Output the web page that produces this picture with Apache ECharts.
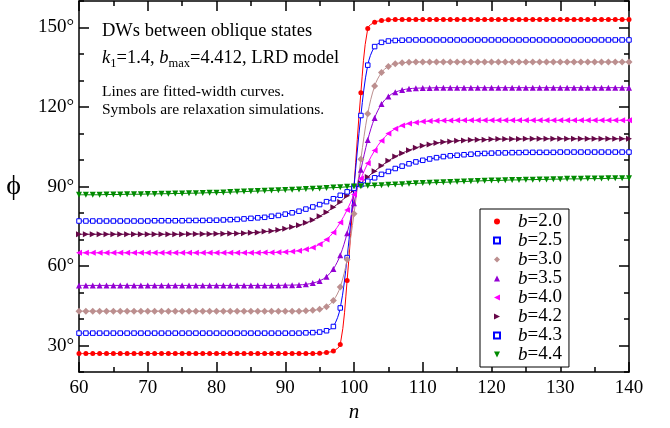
<!DOCTYPE html>
<html><head><meta charset="utf-8">
<script src="https://cdn.jsdelivr.net/npm/echarts@6/dist/echarts.min.js"></script>
<style>html,body{margin:0;padding:0;background:#fff}#c{width:670px;height:428px}</style>
</head><body><div id="c"></div>
<script>
// ---------- data ----------
const nValues = [60,61,62,63,64,65,66,67,68,69,70,71,72,73,74,75,76,77,78,79,80,81,82,83,84,85,86,87,88,89,90,91,92,93,94,95,96,97,98,99,100,101,102,103,104,105,106,107,108,109,110,111,112,113,114,115,116,117,118,119,120,121,122,123,124,125,126,127,128,129,130,131,132,133,134,135,136,137,138,139,140];

const yMajorTicks = [30, 60, 90, 120, 150];
const legendNames = ['2.0','2.5','3.0','3.5','4.0','4.2','4.3','4.4'];

const phi_b20 = [27.0,27.0,27.0,27.0,27.0,27.0,27.0,27.0,27.0,27.0,27.0,27.0,27.0,27.0,27.0,27.0,27.0,27.0,27.0,27.0,27.0,27.0,27.0,27.0,27.0,27.0,27.0,27.0,27.0,27.0,27.0,27.0,27.0,27.0,27.0,
 27.1,27.4,28.0,30.4,54.6,90.0,125.4,149.6,152.0,152.6,152.9,
 153.0,153.0,153.0,153.0,153.0,153.0,153.0,153.0,153.0,153.0,153.0,153.0,153.0,153.0,153.0,153.0,153.0,153.0,153.0,153.0,153.0,153.0,153.0,153.0,153.0,153.0,153.0,153.0,153.0,153.0,153.0,153.0,153.0,153.0,153.0];

const phi_b25 = [34.7,34.7,34.7,34.7,34.7,34.7,34.7,34.7,34.7,34.7,34.7,34.7,34.7,34.7,34.7,34.7,34.7,34.7,34.7,34.7,34.7,34.7,34.7,34.7,34.7,34.7,34.7,34.7,34.7,34.7,34.7,34.7,34.7,
 34.8,34.9,35.1,35.6,37.2,44.2,63.2,90.0,116.8,135.8,142.8,144.4,144.9,145.1,145.2,
 145.3,145.3,145.3,145.3,145.3,145.3,145.3,145.3,145.3,145.3,145.3,145.3,145.3,145.3,145.3,145.3,145.3,145.3,145.3,145.3,145.3,145.3,145.3,145.3,145.3,145.3,145.3,145.3,145.3,145.3,145.3,145.3,145.3];

const phi_b30 = [43.0,43.0,43.0,43.0,43.0,43.0,43.0,43.0,43.0,43.0,43.0,43.0,43.0,43.0,43.0,43.0,43.0,43.0,43.0,43.0,43.0,43.0,43.0,43.0,43.0,43.0,43.0,43.0,43.0,43.0,43.0,43.0,43.0,
 43.1,43.3,43.7,44.7,47.0,52.1,62.5,79.7,100.3,117.5,127.9,133.0,135.3,136.3,136.7,136.9,
 137.0,137.0,137.0,137.0,137.0,137.0,137.0,137.0,137.0,137.0,137.0,137.0,137.0,137.0,137.0,137.0,137.0,137.0,137.0,137.0,137.0,137.0,137.0,137.0,137.0,137.0,137.0,137.0,137.0,137.0,137.0,137.0];

const phi_b35 = [52.7,52.7,52.7,52.7,52.7,52.7,52.7,52.7,52.7,52.7,52.7,52.7,52.7,52.7,52.7,52.7,52.7,52.7,52.7,52.7,52.7,52.7,52.7,52.7,52.7,52.7,52.7,52.7,52.7,52.7,
 52.8,52.8,52.9,53.1,53.6,54.4,56.0,58.9,64.1,72.4,83.7,96.3,107.6,115.9,121.1,124.0,125.6,126.4,126.9,127.1,127.2,127.2,
 127.3,127.3,127.3,127.3,127.3,127.3,127.3,127.3,127.3,127.3,127.3,127.3,127.3,127.3,127.3,127.3,127.3,127.3,127.3,127.3,127.3,127.3,127.3,127.3,127.3,127.3,127.3,127.3,127.3];

const phi_b40 = [65.0,65.0,65.0,65.0,65.0,65.0,65.0,65.0,65.0,65.0,65.0,65.0,65.0,65.0,65.0,65.0,65.0,65.0,65.0,65.0,65.0,65.0,65.0,65.0,65.0,65.0,65.0,
 65.1,65.1,65.2,65.3,65.5,65.8,66.3,67.0,68.2,70.0,72.7,76.4,81.2,87.0,93.0,98.8,103.6,107.3,110.0,111.8,113.0,113.8,114.2,114.5,114.7,114.8,114.9,114.9,
 115.0,115.0,115.0,115.0,115.0,115.0,115.0,115.0,115.0,115.0,115.0,115.0,115.0,115.0,115.0,115.0,115.0,115.0,115.0,115.0,115.0,115.0,115.0,115.0,115.0,115.0];

const phi_b42 = [72.0,72.0,72.0,72.0,72.0,72.0,72.0,72.0,72.0,72.0,72.0,72.0,72.0,72.0,72.0,72.0,
 72.1,72.1,72.1,72.1,72.2,72.2,72.3,72.3,72.4,72.6,72.7,73.0,73.2,73.6,74.1,74.7,75.4,76.3,77.4,78.8,80.3,82.2,84.2,86.5,88.8,
 91.2,93.6,95.8,97.8,99.7,101.3,102.6,103.7,104.6,105.4,105.9,106.4,106.8,107.0,107.3,107.4,107.6,107.7,107.7,107.8,107.9,107.9,107.9,107.9,
 108.0,108.0,108.0,108.0,108.0,108.0,108.0,108.0,108.0,108.0,108.0,108.0,108.0,108.0,108.0,108.0];

const phi_b43 = [77.0,77.0,77.0,77.0,77.0,77.0,77.0,77.0,77.0,77.0,77.0,
 77.1,77.1,77.1,77.1,77.1,77.2,77.2,77.2,77.3,77.3,77.4,77.5,77.6,77.8,78.0,78.2,78.4,78.8,79.1,79.6,80.1,80.7,81.5,82.3,83.2,84.3,85.4,86.7,88.0,89.3,
 90.7,92.0,93.3,94.6,95.7,96.8,97.7,98.6,99.3,99.9,100.4,100.9,101.3,101.6,101.8,102.0,102.2,102.4,102.5,102.6,102.7,102.7,102.8,102.8,102.9,102.9,102.9,102.9,102.9,
 103.0,103.0,103.0,103.0,103.0,103.0,103.0,103.0,103.0,103.0,103.0];

const phi_b44 = [86.9,86.9,86.9,86.9,87.0,87.0,87.0,87.1,87.1,87.1,87.2,87.2,87.3,87.3,87.4,87.4,87.5,87.5,87.6,87.7,87.7,87.8,87.9,88.0,88.1,88.2,88.3,88.4,88.5,88.6,88.7,88.8,88.9,89.1,89.2,89.3,89.5,89.6,89.7,89.9,
 90.0,
 90.1,90.3,90.4,90.5,90.7,90.8,90.9,91.1,91.2,91.3,91.4,91.5,91.6,91.7,91.8,91.9,92.0,92.1,92.2,92.3,92.3,92.4,92.5,92.5,92.6,92.6,92.7,92.7,92.8,92.8,92.9,92.9,92.9,93.0,93.0,93.0,93.1,93.1,93.1,93.1];

// ---------- styling ----------
const SERIF = '"Liberation Serif","Times New Roman","DejaVu Serif",serif';
const TRI_LEFT  = 'path://M10,0 L0,5 L10,10 Z';
const TRI_RIGHT = 'path://M0,0 L10,5 L0,10 Z';
const TRI_DOWN  = 'path://M0,0 L10,0 L5,10 Z';
const seriesDefs = [
  {name:'2.0', data:phi_b20, color:'#ff0000', symbol:'circle',   icon:'circle',   size:5,   rot:0,   open:false},
  {name:'2.5', data:phi_b25, color:'#0000ff', symbol:'rect',     icon:'rect',     size:4.5, rot:0,   open:true},
  {name:'3.0', data:phi_b30, color:'#bc8f8f', symbol:'diamond',  icon:'diamond',  size:7,   rot:0,   open:false},
  {name:'3.5', data:phi_b35, color:'#9400d3', symbol:'triangle', icon:'triangle', size:6,   rot:0,   open:false},
  {name:'4.0', data:phi_b40, color:'#ff00ff', symbol:'triangle', icon:TRI_LEFT,   size:6,   rot:90,  open:false},
  {name:'4.2', data:phi_b42, color:'#670748', symbol:'triangle', icon:TRI_RIGHT,  size:6,   rot:-90, open:false},
  {name:'4.3', data:phi_b43, color:'#0000ff', symbol:'rect',     icon:'rect',     size:4.5, rot:0,   open:true},
  {name:'4.4', data:phi_b44, color:'#008b00', symbol:'triangle', icon:TRI_DOWN,   size:6,   rot:180, open:false}
];

const series = seriesDefs.map(d => ({
  type:'line', name:d.name,
  data: nValues.map((n,i) => [n, d.data[i]]),
  xAxisIndex:0, yAxisIndex:0,
  smooth:0.35,
  symbol:d.symbol, symbolSize:d.size, symbolRotate:d.rot, showAllSymbol:true,
  lineStyle:{color:d.color, width:1},
  itemStyle: d.open ? {color:'#ffffff', borderColor:d.color, borderWidth:1}
                    : {color:d.color, borderWidth:0},
  emphasis:{disabled:true},
  z: 2
}));

const axisLineStyle = {color:'#000', width:1.5};
const labelFont = {fontFamily:SERIF, fontSize:19, color:'#000'};

function xAx(pos, withLabel){
  return {
    type:'value', position:pos, min:60, max:140, interval:10,
    axisLine:{show:true, onZero:false, lineStyle:axisLineStyle},
    axisTick:{show:true, inside:true, length:10, lineStyle:axisLineStyle},
    minorTick:{show:true, splitNumber:2, length:5, lineStyle:axisLineStyle},
    splitLine:{show:false}, minorSplitLine:{show:false},
    axisLabel: withLabel ? Object.assign({margin:6}, labelFont) : {show:false},
    name: withLabel ? 'n' : '', nameLocation:'middle', nameGap:29,
    nameTextStyle:{fontFamily:SERIF, fontSize:21, fontStyle:'italic', color:'#000'}
  };
}
function yMajor(pos, withLabel){
  return {
    type:'value', position:pos, min:20, max:160, interval:10,
    axisLine:{show:true, onZero:false, lineStyle:axisLineStyle},
    axisTick:{show:true, inside:true, length:10, customValues:yMajorTicks, lineStyle:axisLineStyle},
    splitLine:{show:false},
    axisLabel: withLabel ? Object.assign({margin:5, customValues:yMajorTicks, formatter: v => v + '°'}, labelFont) : {show:false},
    name: withLabel ? 'ϕ' : '', nameLocation:'middle', nameGap:58, nameRotate:0,
    nameTextStyle:{fontFamily:SERIF, fontSize:28, color:'#000'}
  };
}
function yMinor(pos){
  return {
    type:'value', position:pos, min:20, max:160, interval:10,
    axisLine:{show:false},
    axisTick:{show:true, inside:true, length:5, lineStyle:axisLineStyle},
    splitLine:{show:false}, axisLabel:{show:false}
  };
}

const chart = echarts.init(document.getElementById('c'), null, {renderer:'canvas'});
chart.setOption({
  animation:false,
  backgroundColor:'#ffffff',
  grid:{left:79, right:41, top:1, bottom:43, containLabel:false},
  xAxis:[xAx('bottom', true), xAx('top', false)],
  yAxis:[yMajor('left', true), yMinor('left'), yMajor('right', false), yMinor('right')],
  legend:{
    orient:'vertical', left:480, top:209,
    padding:[3,7,3,13], itemGap:0, itemWidth:6, itemHeight:6,
    borderColor:'#000', borderWidth:1, backgroundColor:'#fff',
    data: seriesDefs.map(d => ({name:d.name, icon:d.icon})),
    formatter: n => '{i|b}{t|=' + n + '}',
    textStyle:{fontFamily:SERIF, fontSize:19, color:'#000', lineHeight:18.5,
      rich:{
        i:{fontFamily:SERIF, fontSize:19, fontStyle:'italic', color:'#000', lineHeight:18.5, padding:[0,0,0,13]},
        t:{fontFamily:SERIF, fontSize:19, color:'#000', lineHeight:18.5}
      }},
    selectedMode:false
  },
  graphic:[
    {type:'text', x:102, y:31, z:10, style:{text:'DWs between oblique states', fontFamily:SERIF, fontSize:18.5, fill:'#000', verticalAlign:'middle'}},
    {type:'text', x:102, y:46, z:10, style:{
      text:'{i|k}{s|1}{n|=1.4, }{i|b}{s|max}{n|=4.412, LRD model}',
      fontFamily:SERIF, fontSize:18.5, fill:'#000', verticalAlign:'top',
      rich:{
        i:{fontFamily:SERIF, fontSize:18.5, fontStyle:'italic', fill:'#000', lineHeight:24, verticalAlign:'middle'},
        n:{fontFamily:SERIF, fontSize:18.5, fill:'#000', lineHeight:24, verticalAlign:'middle'},
        s:{fontFamily:SERIF, fontSize:12.5, fill:'#000', lineHeight:24, verticalAlign:'bottom'}
      }}},
    {type:'text', x:102, y:92, z:10, style:{text:'Lines are fitted-width curves.', fontFamily:SERIF, fontSize:15.5, fill:'#000', verticalAlign:'middle'}},
    {type:'text', x:102, y:110, z:10, style:{text:'Symbols are relaxation simulations.', fontFamily:SERIF, fontSize:15.5, fill:'#000', verticalAlign:'middle'}}
  ],
  series: series
});
</script>
</body></html>
